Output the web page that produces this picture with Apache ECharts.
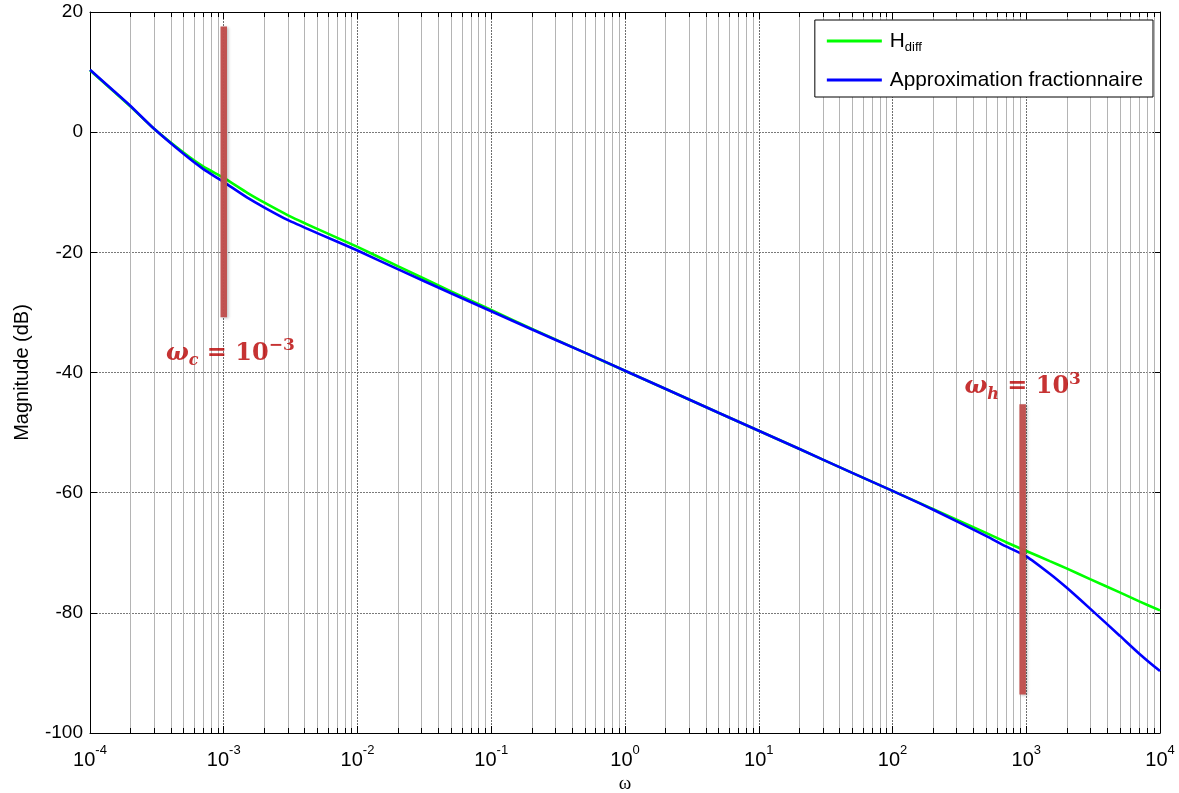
<!DOCTYPE html>
<html><head><meta charset="utf-8">
<script src="https://cdn.jsdelivr.net/npm/echarts@6/dist/echarts.min.js"></script>
<style>html,body{margin:0;padding:0;background:#fff}#c{width:1179px;height:793px}</style>
</head><body><div id="c"></div>
<script>
// ---- data ----
const omega  = [1e-4,1.5e-4,2e-4,3e-4,5e-4,7e-4,1e-3,1.5e-3,2e-3,3e-3,5e-3,1e-2,2e-2,5e-2,0.1,0.2,0.5,1,2,5,10,20,50,100,200,500,700,1000,1500,2000,3000,5000,7000,10000];
const hDiff  = [10.3,6.8,4.3,0.6,-3.4,-5.7,-7.6,-10.1,-11.7,-13.8,-16.1,-19.1,-22.3,-26.5,-29.6,-32.7,-36.7,-39.7,-42.7,-46.7,-49.7,-52.7,-56.7,-59.7,-62.7,-66.7,-68.2,-69.7,-71.4,-72.6,-74.4,-76.6,-78.1,-79.6];
const approx = [10.4,6.9,4.4,0.6,-3.6,-6.1,-8.3,-10.9,-12.5,-14.6,-16.8,-19.7,-22.8,-26.8,-29.8,-32.8,-36.7,-39.7,-42.7,-46.7,-49.7,-52.7,-56.7,-59.7,-62.8,-67.2,-68.9,-70.6,-73.5,-75.8,-79.3,-83.8,-86.8,-89.7];
const seriesNames = ['H_diff', 'Approximation fractionnaire'];
const xTickExponents = [-4,-3,-2,-1,0,1,2,3,4];
const yTicks = [-100,-80,-60,-40,-20,0,20];
// annotation bars (omega, top dB, bottom dB) and their labels
const barOmega  = [1e-3, 940];
const barTop    = [17.6, -45.3];
const barBottom = [-30.8, -93.6];
const labelOmega = [1.12e-3, 940];
const labelDb    = [-36.8, -42.4];
const labelSub   = ['c', 'h'];
const labelExp   = ['\u22123', '3'];

const xMin = Math.pow(10, xTickExponents[0]), xMax = Math.pow(10, xTickExponents[xTickExponents.length-1]);
const yMin = yTicks[0], yMax = yTicks[yTicks.length-1];
// minor decade positions 2..9 x 10^k
const minorVals = [];
for (let i = 0; i < xTickExponents.length-1; i++) for (let k = 2; k <= 9; k++) minorVals.push([k*Math.pow(10, xTickExponents[i]), yMin]);

const chart = echarts.init(document.getElementById('c'), null, {renderer:'canvas'});
const red = '#b80000';
const annFont = 'DejaVu Serif';
const annRich = {
  w:{fontFamily:annFont, fontStyle:'italic', fontWeight:'bold', fontSize:24, color:red, verticalAlign:'middle', lineHeight:32},
  s:{fontFamily:annFont, fontStyle:'italic', fontWeight:'bold', fontSize:16, color:red, verticalAlign:'bottom'},
  e:{fontFamily:annFont, fontWeight:'bold', fontSize:24, color:red, verticalAlign:'middle', lineHeight:32},
  p:{fontFamily:annFont, fontWeight:'bold', fontSize:17, color:red, verticalAlign:'top'}
};
const series = [
  {name:'minor', type:'custom', coordinateSystem:'cartesian2d', xAxisIndex:0, yAxisIndex:0, silent:true, z:1,
   data:minorVals, encode:{x:0, y:1},
   renderItem:function(params, api){
     const v = api.value(0);
     const b = api.coord([v, yMin]), t = api.coord([v, yMax]);
     const x = Math.round(b[0]) + 0.5;
     return {type:'group', children:[
       {type:'line', shape:{x1:x, y1:b[1], x2:x, y2:t[1]}, style:{stroke:'#b4b4b4', lineWidth:1}},
       {type:'line', shape:{x1:x, y1:b[1], x2:x, y2:b[1]-5}, style:{stroke:'#000', lineWidth:1}},
       {type:'line', shape:{x1:x, y1:t[1], x2:x, y2:t[1]+5}, style:{stroke:'#000', lineWidth:1}}
     ]};
   }},
  {name:seriesNames[0], type:'line', data:omega.map((w,i)=>[w,hDiff[i]]), showSymbol:false, symbol:'none',
   smooth:0.2, lineStyle:{color:'#00ff00', width:2.6}, itemStyle:{color:'#00ff00'}, z:3},
  {name:seriesNames[1], type:'line', data:omega.map((w,i)=>[w,approx[i]]), showSymbol:false, symbol:'none',
   smooth:0.2, lineStyle:{color:'#0000ff', width:2.6}, itemStyle:{color:'#0000ff'}, z:4}
];
barOmega.forEach((w,i)=>{
  series.push({name:'bar'+i, type:'line', data:[[w,barTop[i]],[w,barBottom[i]]], symbol:'none', silent:true, z:6,
    lineStyle:{color:'rgba(192,80,77,0.97)', width:6.5, cap:'butt', shadowColor:'rgba(0,0,0,0.25)', shadowBlur:3, shadowOffsetX:1.5, shadowOffsetY:1}});
});
series.push({name:'labels', type:'scatter', symbolSize:0, silent:true, z:7,
  data:labelOmega.map((w,i)=>[w,labelDb[i],i]),
  label:{show:true, position:'inside', formatter:function(p){const i=p.value[2];return '{w|\u03c9}{s|'+labelSub[i]+'}{e| = 10}{p|'+labelExp[i]+'}';}, rich:annRich}});

const axisLineStyle = {onZero:false, lineStyle:{color:'#000', width:1}};
chart.setOption({
  animation:false,
  backgroundColor:'#fff',
  grid:{left:90, right:19, top:12, bottom:60, containLabel:false, outerBoundsMode:'none'},
  legend:{
    data:seriesNames, orient:'vertical', right:26, top:20, icon:'rect', itemWidth:55, itemHeight:3, itemGap:13,
    backgroundColor:'#fff', borderColor:'#000', borderWidth:1, borderRadius:0, padding:[8,10,4,12],
    selectedMode:false,
    formatter:function(n){return n==='H_diff' ? '{m|H}{d|diff}' : '{m|'+n+'}';},
    textStyle:{color:'#000', fontFamily:'Liberation Sans', fontSize:20.8, lineHeight:26, padding:[0,0,0,3],
      rich:{m:{fontFamily:'Liberation Sans', fontSize:20.8, color:'#000', lineHeight:26, verticalAlign:'middle'},
            d:{fontFamily:'Liberation Sans', fontSize:13, color:'#000', verticalAlign:'bottom'}}}
  },
  xAxis:[
    {type:'log', logBase:10, min:xMin, max:xMax, position:'bottom',
     name:'\u03c9', nameLocation:'middle', nameGap:41, nameTextStyle:{fontFamily:'Liberation Serif', fontSize:19, color:'#000'},
     axisLine:axisLineStyle, axisTick:{inside:true, length:7, lineStyle:{color:'#000'}},
     axisLabel:{margin:11, formatter:function(v){const e=Math.round(Math.log10(v));return '{b|10}{s|'+e+'}';},
       rich:{b:{fontFamily:'Liberation Sans', fontSize:20, color:'#000', lineHeight:26, verticalAlign:'bottom'},
             s:{fontFamily:'Liberation Sans', fontSize:13, color:'#000', verticalAlign:'top'}}},
     splitLine:{show:true, lineStyle:{color:'#6e6e6e', width:1, type:[2,1]}},
     minorTick:{show:false}, minorSplitLine:{show:false}},
    {type:'log', logBase:10, min:xMin, max:xMax, position:'top',
     axisLine:axisLineStyle, axisTick:{inside:true, length:7, lineStyle:{color:'#000'}},
     axisLabel:{show:false}, splitLine:{show:false}}
  ],
  yAxis:[
    {type:'value', min:yMin, max:yMax, interval:20, position:'left',
     name:'Magnitude (dB)', nameLocation:'middle', nameRotate:90, nameGap:58,
     nameTextStyle:{fontFamily:'Liberation Sans', fontSize:20, color:'#000'},
     axisLine:axisLineStyle, axisTick:{inside:true, length:7, lineStyle:{color:'#000'}},
     axisLabel:{margin:7, fontFamily:'Liberation Sans', fontSize:19, color:'#000'},
     splitLine:{show:true, lineStyle:{color:'#7a7a7a', width:1, type:[2,1]}}},
    {type:'value', min:yMin, max:yMax, interval:20, position:'right',
     axisLine:axisLineStyle, axisTick:{inside:true, length:7, lineStyle:{color:'#000'}},
     axisLabel:{show:false}, splitLine:{show:false}}
  ],
  series:series
});
</script></body></html>
